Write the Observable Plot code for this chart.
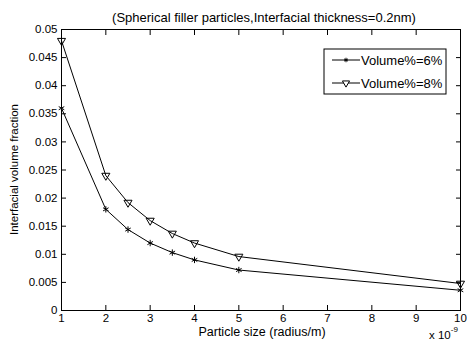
<!DOCTYPE html>
<html><head><meta charset="utf-8">
<script src="https://cdn.jsdelivr.net/npm/d3@7"></script>
<script src="https://cdn.jsdelivr.net/npm/@observablehq/plot@0.6"></script>
<style>body{margin:0;background:#fff;} svg{font-family:"Liberation Sans",Arial,sans-serif;}</style>
</head><body><div id="chart"></div>
<script>
const radius = [1, 2, 2.5, 3, 3.5, 4, 5, 10];
const vol6 = [0.036, 0.018, 0.0144, 0.012, 0.0103, 0.009, 0.0072, 0.0036];
const vol8 = [0.048, 0.024, 0.0192, 0.016, 0.0137, 0.012, 0.0096, 0.0048];
const seriesNames = ["Volume%=6%", "Volume%=8%"];
const xTicks = [1, 2, 3, 4, 5, 6, 7, 8, 9, 10];
const yTicks = [0, 0.005, 0.01, 0.015, 0.02, 0.025, 0.03, 0.035, 0.04, 0.045, 0.05];
const titleText = "(Spherical filler particles,Interfacial thickness=0.2nm)";
const xLabel = "Particle size (radius/m)";
const yLabel = "Interfacial volume fraction";

const d6 = radius.map((r, i) => ({r, v: vol6[i]}));
const d8 = radius.map((r, i) => ({r, v: vol8[i]}));
const fmt = d3.format("~g");

const plot = Plot.plot({
  width: 467, height: 343,
  marginLeft: 61, marginRight: 7, marginTop: 29, marginBottom: 33,
  style: {fontFamily: "Liberation Sans, Arial, sans-serif", fontSize: "11px", background: "#fff", color: "#000"},
  x: {domain: [1, 10]},
  y: {domain: [0, 0.05]},
  marks: [
    Plot.frame({stroke: "#000", strokeWidth: 1}),
    Plot.axisX({ticks: xTicks, tickSize: -5, tickFormat: () => "", label: null}),
    Plot.axisX({ticks: xTicks, anchor: "top", tickSize: -5, tickFormat: () => "", label: null}),
    Plot.axisX({ticks: xTicks, tickSize: 0, tickPadding: 3, tickFormat: fmt, label: null, fontSize: 11.5}),
    Plot.axisY({ticks: yTicks, tickSize: -5, tickFormat: () => "", label: null}),
    Plot.axisY({ticks: yTicks, anchor: "right", tickSize: -5, tickFormat: () => "", label: null}),
    Plot.axisY({ticks: yTicks, tickSize: 0, tickPadding: 4, tickFormat: fmt, label: null, fontSize: 11.5}),
    Plot.line(d8, {x: "r", y: "v", stroke: "#000", strokeWidth: 1}),
    Plot.line(d6, {x: "r", y: "v", stroke: "#000", strokeWidth: 1}),
    Plot.dot(d8, {x: "r", y: "v", symbol: "triangle", rotate: 180, r: 3, stroke: "#000", fill: "none", strokeWidth: 1}),
    Plot.dot(d6, {x: "r", y: "v", symbol: "asterisk", r: 3, stroke: "#000", strokeWidth: 1})
  ]
});
document.getElementById("chart").appendChild(plot);

const svg = d3.select(plot);
// title and axis labels
svg.append("text").attr("x", 264).attr("y", 22).attr("text-anchor", "middle")
  .attr("font-size", 13).attr("fill", "#000").text(titleText);
svg.append("text").attr("x", 262).attr("y", 335.5).attr("text-anchor", "middle")
  .attr("font-size", 12.5).attr("fill", "#000").text(xLabel);
svg.append("text").attr("transform", "translate(18,169.5) rotate(-90)").attr("text-anchor", "middle")
  .attr("font-size", 11.5).attr("fill", "#000").text(yLabel);
// exponent note
const t = svg.append("text").attr("x", 429).attr("y", 339).attr("text-anchor", "start")
  .attr("font-size", 11.5).attr("fill", "#000");
t.append("tspan").text("x 10");
t.append("tspan").attr("dy", -7).attr("font-size", 8).text("-9");

// legend
const lg = svg.append("g").attr("transform", "translate(324,49)");
lg.append("rect").attr("width", 122).attr("height", 45).attr("fill", "#fff").attr("stroke", "#000");
const sym6 = d3.symbol(d3.symbolAsterisk, 14)();
const sym8 = d3.symbol(d3.symbolTriangle, 22)();
seriesNames.forEach((name, i) => {
  const y = 11 + i * 23;
  lg.append("line").attr("x1", 8).attr("x2", 36).attr("y1", y).attr("y2", y).attr("stroke", "#000");
  lg.append("path").attr("d", i === 0 ? sym6 : sym8)
    .attr("transform", `translate(22,${y})` + (i === 1 ? " rotate(180)" : ""))
    .attr("stroke", "#000").attr("fill", i === 0 ? "none" : "#fff");
  lg.append("text").attr("x", 37).attr("y", y).attr("dy", "0.35em").attr("text-anchor", "start")
    .attr("font-size", 13).attr("fill", "#000").text(name);
});
</script></body></html>
